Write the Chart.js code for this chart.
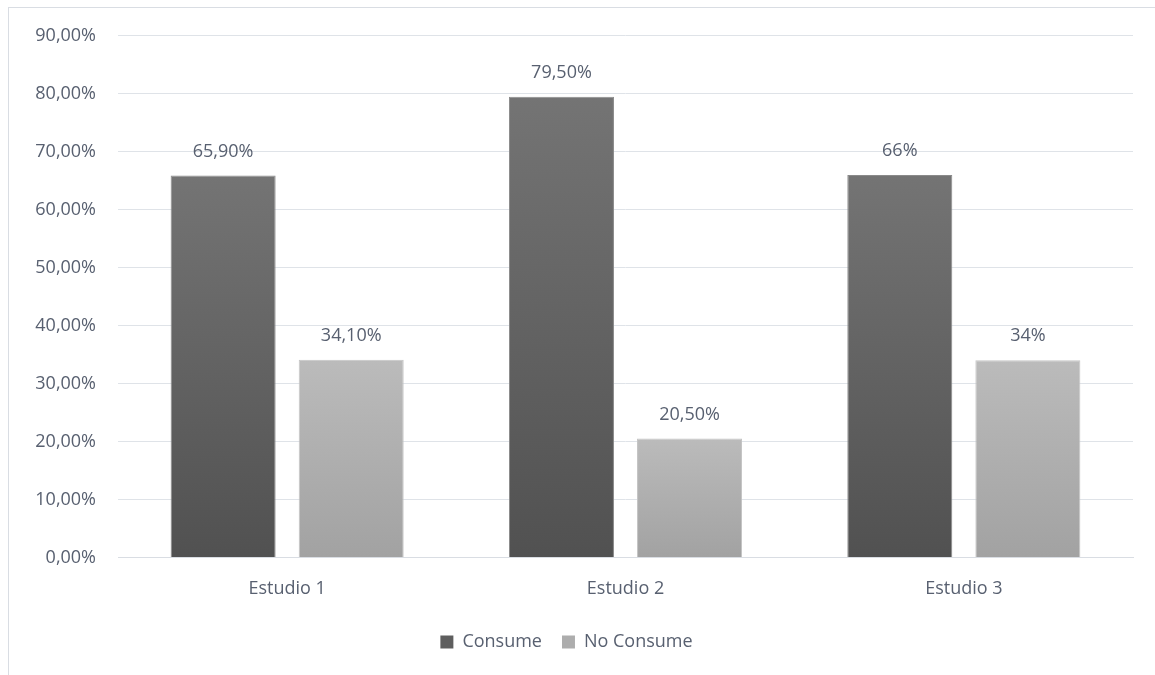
<!DOCTYPE html>
<html>
<head>
<meta charset="utf-8">
<script src="https://cdn.jsdelivr.net/npm/chart.js@4.4.1/dist/chart.umd.min.js"></script>
<style>
  html, body { margin: 0; padding: 0; background: #fff; }
  #wrap { position: relative; width: 1155px; height: 675px; }
  #frame { position: absolute; left: 8px; top: 7px; right: 0; bottom: 0;
           border-left: 1px solid #d9dde3; border-top: 1px solid #d9dde3; }
  canvas { position: absolute; left: 0; top: 3px; }
</style>
</head>
<body>
<div id="wrap">
  <div id="frame"></div>
  <canvas id="chart" width="1155" height="672"></canvas>
</div>
<script>
var categories = ["Estudio 1", "Estudio 2", "Estudio 3"];
var consume = [65.9, 79.5, 66];
var noConsume = [34.1, 20.5, 34];
var consumeLabels = ["65,90%", "79,50%", "66%"];
var noConsumeLabels = ["34,10%", "20,50%", "34%"];

var textColor = '#586070';
var fontFam = '"Open Sans", "Noto Sans", sans-serif';
var fontSize = 18;

// gradient per bar, lighter at the top
function barGradient(top, bottom) {
    return function (ctx) {
        var chart = ctx.chart;
        if (!chart.chartArea || ctx.type !== 'data') return bottom;
        var ys = chart.scales.y;
        var yTop = ys.getPixelForValue(ctx.raw);
        var yBase = ys.getPixelForValue(0);
        var g = chart.ctx.createLinearGradient(0, yTop, 0, yBase);
        g.addColorStop(0, top);
        g.addColorStop(1, bottom);
        return g;
    };
}

var valueLabels = {
    id: 'valueLabels',
    afterDatasetsDraw: function (chart) {
        var c = chart.ctx;
        c.save();
        c.font = fontSize + 'px ' + fontFam;
        c.fillStyle = textColor;
        c.textAlign = 'center';
        c.textBaseline = 'middle';
        chart.data.datasets.forEach(function (ds, di) {
            var meta = chart.getDatasetMeta(di);
            meta.data.forEach(function (bar, i) {
                c.fillText(ds.valueText[i], bar.x, bar.y - 24);
            });
        });
        c.restore();
    }
};

new Chart(document.getElementById('chart'), {
    type: 'bar',
    data: {
        labels: categories,
        datasets: [
            {
                label: 'Consume',
                data: consume,
                valueText: consumeLabels,
                backgroundColor: barGradient('#747474', '#515151'),
                borderColor: '#8a8a8a',
                borderWidth: 1,
                categoryPercentage: 0.757,
                barPercentage: 0.82
            },
            {
                label: 'No Consume',
                data: noConsume,
                valueText: noConsumeLabels,
                backgroundColor: barGradient('#bbbbbb', '#a2a2a2'),
                borderColor: '#c4c4c4',
                borderWidth: 1,
                categoryPercentage: 0.757,
                barPercentage: 0.82
            }
        ]
    },
    options: {
        responsive: false,
        animation: false,
        layout: { padding: { top: 25, right: 22, bottom: 14, left: 0 } },
        plugins: {
            tooltip: { enabled: false },
            legend: {
                position: 'bottom',
                labels: {
                    color: textColor,
                    font: { size: fontSize, family: fontFam },
                    boxWidth: 13,
                    boxHeight: 13,
                    padding: 20,
                    generateLabels: function (chart) {
                        var cols = ['#5e5e5e', '#adadad'];
                        return chart.data.datasets.map(function (ds, i) {
                            return { text: ds.label, fillStyle: cols[i], strokeStyle: cols[i], lineWidth: 0, datasetIndex: i, fontColor: textColor };
                        });
                    }
                }
            }
        },
        scales: {
            x: {
                grid: { display: false },
                border: { color: '#d9dde3' },
                ticks: { color: textColor, font: { size: fontSize, family: fontFam }, padding: 13 }
            },
            y: {
                min: 0,
                max: 90,
                afterFit: function (s) { s.width = 118; },
                border: { display: false },
                grid: { color: '#dfe3e8', drawTicks: false },
                ticks: {
                    stepSize: 10,
                    padding: 22,
                    color: textColor,
                    font: { size: fontSize, family: fontFam },
                    callback: function (v) { return v.toFixed(2).replace('.', ',') + '%'; }
                }
            }
        }
    },
    plugins: [valueLabels]
});
</script>
</body>
</html>
